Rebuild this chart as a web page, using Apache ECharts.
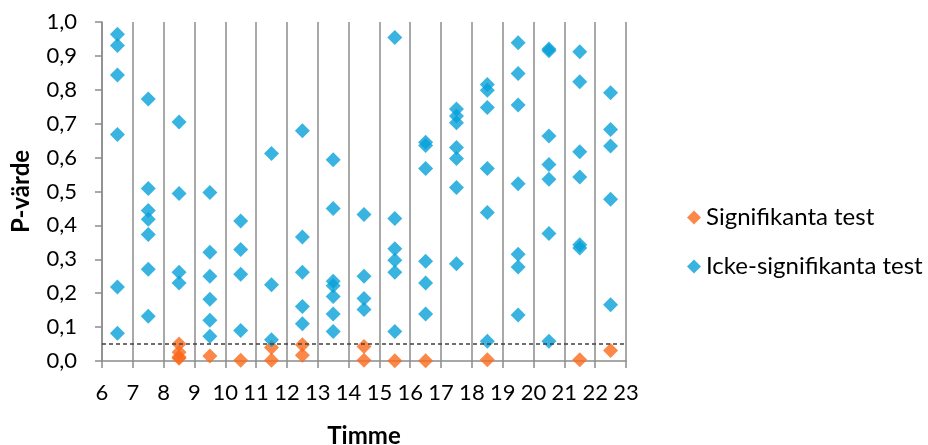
<!DOCTYPE html>
<html>
<head>
<meta charset="utf-8">
<script src="https://cdn.jsdelivr.net/npm/echarts@6/dist/echarts.min.js"></script>
<style>html,body{margin:0;padding:0;background:#fff}#c{width:928px;height:445px}</style>
</head>
<body>
<div id="c"></div>
<script>
// x position of each hour's column (centre between hour ticks)
const hours = [6.5, 7.5, 8.5, 9.5, 10.5, 11.5, 12.5, 13.5, 14.5, 15.5, 16.5, 17.5, 18.5, 19.5, 20.5, 21.5, 22.5];
// Significant tests (p < 0.05), per hour
const sigByHour = [
  [],
  [],
  [0.050, 0.026, 0.012, 0.008],
  [0.015],
  [0.002],
  [0.040, 0.002],
  [0.048, 0.017],
  [],
  [0.043, 0.002],
  [0.001],
  [0.001],
  [],
  [0.004],
  [],
  [],
  [0.004],
  [0.031]
];
// Non-significant tests, per hour
const nonSigByHour = [
  [0.964, 0.931, 0.844, 0.668, 0.218, 0.082],
  [0.773, 0.509, 0.444, 0.418, 0.373, 0.271, 0.132],
  [0.705, 0.494, 0.262, 0.230],
  [0.497, 0.321, 0.250, 0.182, 0.120, 0.073],
  [0.413, 0.329, 0.256, 0.090],
  [0.612, 0.225, 0.063],
  [0.679, 0.366, 0.262, 0.161, 0.110],
  [0.594, 0.450, 0.235, 0.222, 0.190, 0.139, 0.087],
  [0.432, 0.250, 0.184, 0.152],
  [0.954, 0.420, 0.331, 0.297, 0.262, 0.087],
  [0.645, 0.636, 0.568, 0.294, 0.230, 0.139],
  [0.743, 0.723, 0.703, 0.630, 0.597, 0.512, 0.287],
  [0.816, 0.799, 0.748, 0.568, 0.438, 0.058],
  [0.939, 0.848, 0.755, 0.523, 0.315, 0.277, 0.136],
  [0.920, 0.915, 0.664, 0.580, 0.536, 0.376, 0.058],
  [0.912, 0.824, 0.617, 0.543, 0.343, 0.333],
  [0.791, 0.683, 0.634, 0.477, 0.166]
];
const xTicks = {min: 6, max: 23, step: 1};
const yTicks = {min: 0, max: 1, step: 0.1};
const threshold = 0.05;
const seriesNames = ['Signifikanta test', 'Icke-signifikanta test'];
const axisNames = {x: 'Timme', y: 'P-värde'};

function toPoints(byHour) {
  const out = [];
  byHour.forEach((vals, i) => vals.forEach(v => out.push([hours[i], v])));
  return out;
}

const FONT = 'Lato, "Open Sans", sans-serif';
const GRAY = '#8c8c8c';
const chart = echarts.init(document.getElementById('c'), null, {renderer: 'canvas'});
chart.setOption({
  animation: false,
  backgroundColor: '#ffffff',
  textStyle: {fontFamily: FONT},
  grid: {left: 102, right: 302, top: 22, bottom: 84, containLabel: false, outerBoundsMode: 'none'},
  legend: {
    orient: 'vertical',
    left: 682,
    top: 200,
    itemWidth: 14,
    itemHeight: 14,
    itemGap: 24,
    itemTextGap: 6,
    itemStyle: {borderWidth: 0},
    textStyle: {fontFamily: FONT, fontSize: 24, color: '#000', lineHeight: 25},
    data: seriesNames.map(n => ({name: n, icon: 'diamond'}))
  },
  xAxis: {
    type: 'value',
    min: xTicks.min, max: xTicks.max, interval: xTicks.step,
    name: axisNames.x, nameLocation: 'middle', nameGap: 63,
    nameTextStyle: {fontFamily: FONT, fontSize: 24, fontWeight: 'bold', color: '#000'},
    axisLine: {show: true, onZero: false, lineStyle: {color: GRAY, width: 1.5}},
    axisTick: {show: true, length: 7, lineStyle: {color: GRAY, width: 1.5}},
    splitLine: {show: true, lineStyle: {color: GRAY, width: 1.5}},
    axisLabel: {fontFamily: FONT, fontSize: 22, color: '#000', margin: 21, hideOverlap: false}
  },
  yAxis: {
    type: 'value',
    min: yTicks.min, max: yTicks.max, interval: yTicks.step,
    name: axisNames.y, nameLocation: 'middle', nameGap: 69, nameRotate: 90,
    nameTextStyle: {fontFamily: FONT, fontSize: 24, fontWeight: 'bold', color: '#000'},
    axisLine: {show: true, lineStyle: {color: GRAY, width: 1.5}},
    axisTick: {show: true, length: 7, lineStyle: {color: GRAY, width: 1.5}},
    splitLine: {show: false},
    axisLabel: {fontFamily: FONT, fontSize: 22, color: '#000', margin: 25,
      formatter: v => v.toFixed(1).replace('.', ',')}
  },
  series: [
    {
      name: seriesNames[0], type: 'scatter', symbol: 'diamond', symbolSize: 15,
      itemStyle: {color: '#fa6a1c'},
      data: toPoints(sigByHour),
      markLine: {
        silent: true, symbol: ['none', 'none'], label: {show: false},
        lineStyle: {color: '#404040', type: [4, 3], width: 1.5},
        data: [{yAxis: threshold}]
      },
      z: 2
    },
    {
      name: seriesNames[1], type: 'scatter', symbol: 'diamond', symbolSize: 15,
      itemStyle: {color: '#08a0d8'},
      data: toPoints(nonSigByHour),
      z: 3
    }
  ]
});
</script>
</body>
</html>
